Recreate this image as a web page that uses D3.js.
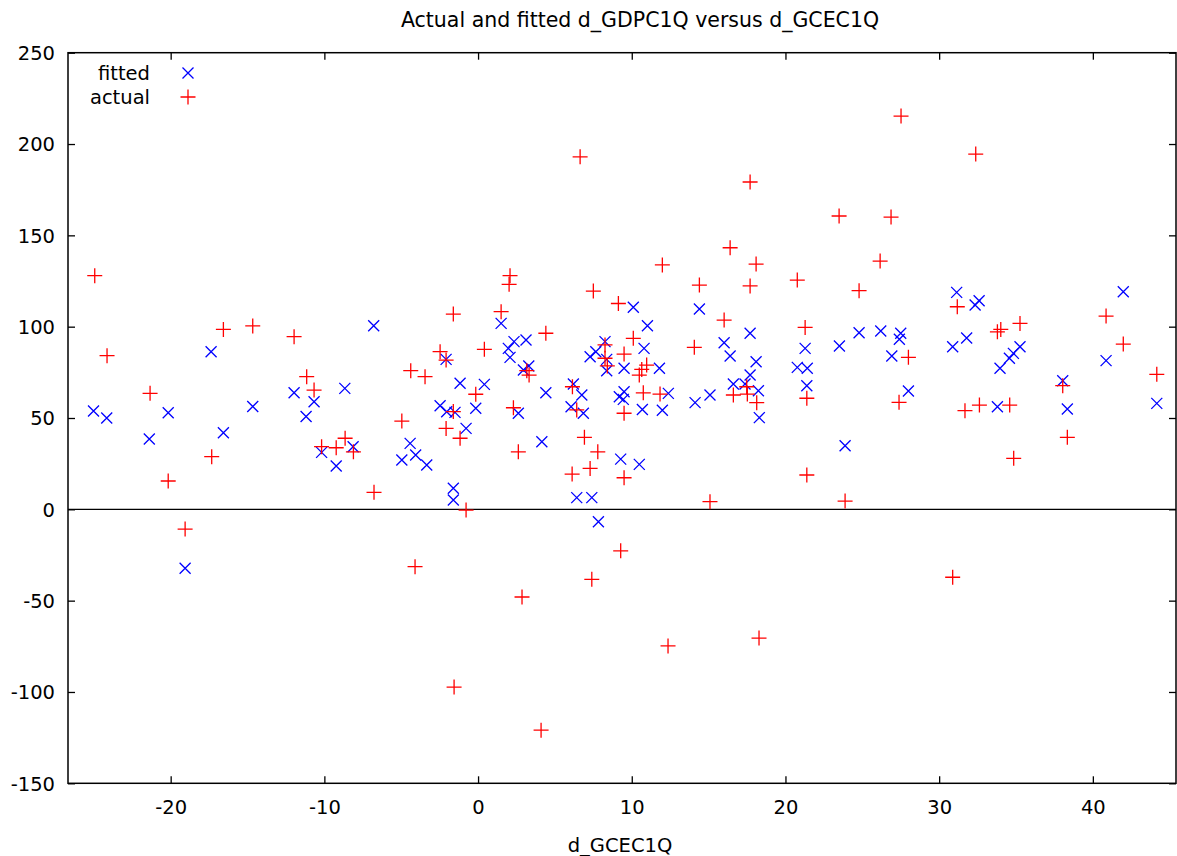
<!DOCTYPE html>
<html><head><meta charset="utf-8">
<script src="https://cdn.jsdelivr.net/npm/d3@7"></script>
<style>html,body{margin:0;padding:0;background:#fff;}svg{display:block;font-family:"DejaVu Sans",Verdana,sans-serif;}</style>
</head><body>
<div id="chart"></div>
<script>
const titleText = "Actual and fitted d_GDPC1Q versus d_GCEC1Q";
const xLabel = "d_GCEC1Q";
const xTicks = [-20, -10, 0, 10, 20, 30, 40];
const yTicks = [-150, -100, -50, 0, 50, 100, 150, 200, 250];
const seriesNames = ["fitted", "actual"];

// fitted: x values and fitted y values
const fittedX = [-25.02,-24.16,-21.39,-20.16,-19.06,-17.37,-16.57,-14.66,-11.97,-10.67,-11.19,-8.67,-6.79,-10.18,-8.13,-9.23,-4.42,-4.96,-4.06,-3.34,-2.47,-2.08,-2.04,-1.50,-1.17,-0.78,-1.61,-1.61,-0.15,0.41,1.50,2.34,3.12,1.97,2.08,2.95,3.30,2.62,4.41,4.15,6.20,6.05,6.75,6.85,6.42,7.40,7.83,7.29,7.66,8.26,8.37,8.37,9.50,11.80,10.10,11.02,10.80,9.19,9.50,9.45,10.69,11.99,12.38,9.28,10.49,14.40,16.01,16.40,17.70,18.09,17.70,16.61,17.37,18.24,18.30,15.09,14.12,20.77,21.42,21.28,21.39,23.51,23.88,24.79,26.20,27.50,27.41,26.92,28.00,30.88,31.14,31.79,32.34,32.60,33.96,34.57,34.83,35.26,33.79,38.04,38.34,40.86,41.98,44.16];
const fittedY = [53.8,50.0,38.5,52.9,-32.3,86.3,41.9,56.3,63.8,58.9,50.8,66.2,100.5,31.2,34.3,23.7,36.1,27.0,29.7,24.3,56.7,82.1,53.4,53.1,69.0,44.3,11.5,5.1,55.3,68.4,101.8,91.8,92.7,88.1,83.2,76.3,78.5,52.6,63.8,37.0,68.6,56.2,62.6,52.6,6.4,6.4,-6.8,83.5,86.3,91.8,75.9,82.1,77.2,77.2,110.6,100.5,88.1,61.6,64.4,60.2,54.7,54.2,63.5,27.5,24.6,109.7,91.2,83.9,96.4,80.8,73.5,68.6,68.6,64.9,50.2,62.6,58.4,77.7,77.2,88.1,67.7,89.4,34.8,96.7,97.6,96.4,93.1,83.9,64.8,89.0,118.8,93.8,111.9,114.2,77.2,82.7,85.4,89.0,56.2,70.4,54.9,81.4,119.1,58.0];

// actual: x values and actual y values
const actualX = [-24.94,-24.14,-21.34,-20.16,-19.06,-17.33,-16.57,-14.66,-11.97,-11.15,-10.67,-10.18,-9.23,-8.65,-8.11,-6.77,-4.96,-4.38,-4.10,-3.45,-2.47,-2.08,-1.61,-1.61,-2.08,-1.17,-1.56,-0.78,-0.15,0.41,1.50,2.08,2.02,2.30,2.62,3.17,3.32,2.86,4.41,4.10,6.14,6.42,6.12,6.64,6.92,7.29,7.40,7.50,7.79,8.26,8.41,8.26,9.13,9.50,9.50,9.50,9.28,10.10,10.97,10.65,10.49,10.75,11.84,11.99,12.36,14.07,14.40,15.09,16.01,16.40,16.61,17.48,17.52,17.70,17.70,18.09,18.13,18.28,20.77,21.28,21.39,21.39,23.49,23.88,24.79,26.16,26.87,27.39,27.52,28.00,30.88,31.18,31.68,32.38,32.62,33.79,34.01,34.59,34.85,35.26,38.04,38.34,40.86,41.98,44.16];
const actualY = [127.9,84.1,63.5,15.5,-10.8,28.8,98.5,100.4,94.5,72.6,65.3,34.3,33.7,38.9,31.5,9.3,48.3,75.9,-31.4,72.6,86.3,81.7,106.9,53.5,44.3,38.9,-97.3,-0.4,63.0,87.6,108.2,127.9,123.2,55.6,31.5,75.9,73.5,-48.0,96.4,-120.9,67.1,54.4,19.3,193.0,39.4,22.4,-38.3,119.5,31.5,90.0,78.5,82.7,112.7,85.0,52.6,17.3,-22.7,93.6,79.0,76.6,73.5,63.8,63.1,133.8,-74.8,88.7,122.8,4.2,103.6,143.2,62.6,67.1,63.1,179.2,122.3,134.3,58.4,-70.5,125.5,99.6,60.8,18.8,160.6,4.5,119.7,135.9,160.0,58.6,215.3,83.2,-37.2,110.9,54.0,194.5,57.1,97.2,98.5,57.1,27.9,101.8,67.7,39.4,105.8,90.5,73.9];

const W = 1177, H = 856;
const plot = {left: 68, right: 1176, top: 52.7, bottom: 783.3};
const svg = d3.select("#chart").append("svg").attr("width", W).attr("height", H);

const x = d3.scaleLinear().domain([-26.68, 45.41]).range([plot.left, plot.right]);
const y = d3.scaleLinear().domain([-150, 250]).range([plot.bottom, plot.top]);

const blue = "#0000ff", red = "#ff0000";
const tickLen = 7;
const fontSize = 19.5;
const fontFam = '"DejaVu Sans",Verdana,sans-serif';
const fmt = d => String(d);  // plain hyphen-minus as in the original

// zero line
svg.append("line").attr("x1", plot.left).attr("x2", plot.right)
  .attr("y1", y(0)).attr("y2", y(0)).attr("stroke", "#000").attr("stroke-width", 1.3);

// axes (inward ticks, mirrored)
const gB = svg.append("g").attr("transform", `translate(0,${plot.bottom})`)
  .call(d3.axisBottom(x).tickValues(xTicks).tickSizeInner(-tickLen).tickSizeOuter(0).tickPadding(17).tickFormat(fmt));
const gT = svg.append("g").attr("transform", `translate(0,${plot.top})`)
  .call(d3.axisTop(x).tickValues(xTicks).tickSizeInner(-tickLen).tickSizeOuter(0).tickFormat(""));
const gL = svg.append("g").attr("transform", `translate(${plot.left},0)`)
  .call(d3.axisLeft(y).tickValues(yTicks).tickSizeInner(-tickLen).tickSizeOuter(0).tickPadding(13).tickFormat(fmt));
const gR = svg.append("g").attr("transform", `translate(${plot.right},0)`)
  .call(d3.axisRight(y).tickValues(yTicks).tickSizeInner(-tickLen).tickSizeOuter(0).tickFormat(""));
[gB, gT, gL, gR].forEach(g => {
  g.select(".domain").remove();
  g.selectAll(".tick line").attr("stroke", "#000").attr("stroke-width", 1.3);
  g.selectAll("text").attr("font-size", fontSize).attr("fill", "#000").attr("font-family", fontFam);
});
gL.selectAll("text").attr("dy", "0.35em");

// border
svg.append("rect").attr("x", plot.left).attr("y", plot.top)
  .attr("width", plot.right - plot.left).attr("height", plot.bottom - plot.top)
  .attr("fill", "none").attr("stroke", "#000").attr("stroke-width", 1.5);

// markers
const crossPath = (cx, cy, r) => `M${cx - r},${cy - r}L${cx + r},${cy + r}M${cx - r},${cy + r}L${cx + r},${cy - r}`;
const plusPath = (cx, cy, r) => `M${cx - r},${cy}L${cx + r},${cy}M${cx},${cy - r}L${cx},${cy + r}`;

const fitted = fittedX.map((v, i) => ({x: v, y: fittedY[i]}));
const actual = actualX.map((v, i) => ({x: v, y: actualY[i]}));

svg.append("g").selectAll("path").data(fitted).join("path")
  .attr("d", d => crossPath(x(d.x), y(d.y), 5.5))
  .attr("stroke", blue).attr("stroke-width", 1.3).attr("fill", "none");
svg.append("g").selectAll("path").data(actual).join("path")
  .attr("d", d => plusPath(x(d.x), y(d.y), 7.5))
  .attr("stroke", red).attr("stroke-width", 1.3).attr("fill", "none");

// legend
const leg = svg.append("g");
seriesNames.forEach((name, i) => {
  const ly = 73 + i * 24;
  leg.append("text").attr("x", 150).attr("y", ly).attr("dy", "0.35em")
    .attr("text-anchor", "end").attr("font-size", fontSize).attr("font-family", fontFam).text(name);
  leg.append("path").attr("d", i === 0 ? crossPath(188, ly, 5.5) : plusPath(188, ly, 7.5))
    .attr("stroke", i === 0 ? blue : red).attr("stroke-width", 1.3).attr("fill", "none");
});

// title and x label
svg.append("text").attr("x", 640).attr("y", 20).attr("dy", "0.35em").attr("text-anchor", "middle")
  .attr("font-size", 20.5).attr("font-family", fontFam).text(titleText);
svg.append("text").attr("x", 620).attr("y", 845).attr("dy", "0.35em").attr("text-anchor", "middle")
  .attr("font-size", fontSize).attr("font-family", fontFam).text(xLabel);
</script>
</body></html>
